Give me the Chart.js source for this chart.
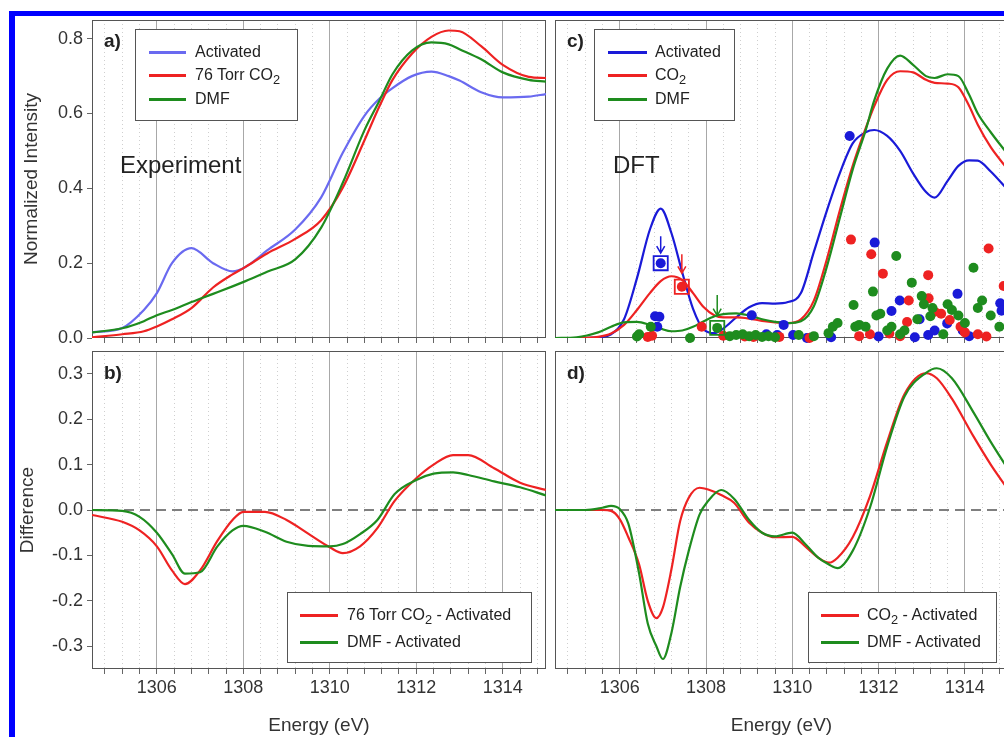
<!DOCTYPE html>
<html>
<head>
<meta charset="utf-8">
<script src="https://cdn.jsdelivr.net/npm/chart.js@4.4.1/dist/chart.umd.min.js"></script>
<style>
  html, body { margin: 0; padding: 0; background: #fff; overflow: hidden; }
  body { width: 1004px; height: 737px; position: relative; font-family: "Liberation Sans", Arial, sans-serif; color: #222; }
  canvas { position: absolute; }
  #frame { position: absolute; left: 9px; top: 11px; width: 1100px; height: 800px; border-left: 6px solid #0000ff; border-top: 5px solid #0000ff; }
  .legend { position: absolute; background: #fff; border: 1px solid #555; box-sizing: border-box; }
  .legend .row { position: absolute; font-size: 16px; line-height: 20px; white-space: nowrap; color: #222; }
  .legend .sw { position: absolute; height: 3px; }
  .legend sub { font-size: 0.8em; vertical-align: -0.35em; line-height: 0; }
  .note { position: absolute; white-space: nowrap; color: #222; }
  .tag { position: absolute; font-weight: bold; font-size: 19px; color: #222; }
</style>
</head>
<body>
<canvas id="panelA" width="552" height="345" style="left:0;top:0"></canvas>
<canvas id="panelB" width="552" height="392" style="left:0;top:345px"></canvas>
<canvas id="panelC" width="470" height="345" style="left:552px;top:0"></canvas>
<canvas id="panelD" width="470" height="392" style="left:552px;top:345px"></canvas>
<div id="frame"></div>

<div class="tag" style="left:104px;top:30px">a)</div>
<div class="tag" style="left:104px;top:362px">b)</div>
<div class="tag" style="left:567px;top:30px">c)</div>
<div class="tag" style="left:567px;top:362px">d)</div>
<div class="note" style="left:120px;top:151px;font-size:24px">Experiment</div>
<div class="note" style="left:613px;top:151px;font-size:24px">DFT</div>

<div class="legend" style="left:135px;top:29px;width:163px;height:92px">
  <div class="sw" style="left:13px;top:21px;width:37px;background:#6a6af0"></div>
  <div class="row" style="left:59px;top:12px">Activated</div>
  <div class="sw" style="left:13px;top:44px;width:37px;background:#ee2222"></div>
  <div class="row" style="left:59px;top:35px">76 Torr CO<sub>2</sub></div>
  <div class="sw" style="left:13px;top:68px;width:37px;background:#1e8c1e"></div>
  <div class="row" style="left:59px;top:59px">DMF</div>
</div>
<div class="legend" style="left:594px;top:29px;width:141px;height:92px">
  <div class="sw" style="left:13px;top:21px;width:39px;background:#1a1ad8"></div>
  <div class="row" style="left:60px;top:12px">Activated</div>
  <div class="sw" style="left:13px;top:44px;width:39px;background:#ee2222"></div>
  <div class="row" style="left:60px;top:35px">CO<sub>2</sub></div>
  <div class="sw" style="left:13px;top:68px;width:39px;background:#1e8c1e"></div>
  <div class="row" style="left:60px;top:59px">DMF</div>
</div>
<div class="legend" style="left:287px;top:592px;width:245px;height:71px">
  <div class="sw" style="left:12px;top:21px;width:38px;background:#ee2222"></div>
  <div class="row" style="left:59px;top:12px">76 Torr CO<sub>2</sub> - Activated</div>
  <div class="sw" style="left:12px;top:48px;width:38px;background:#1e8c1e"></div>
  <div class="row" style="left:59px;top:39px">DMF - Activated</div>
</div>
<div class="legend" style="left:808px;top:592px;width:189px;height:71px">
  <div class="sw" style="left:12px;top:21px;width:38px;background:#ee2222"></div>
  <div class="row" style="left:58px;top:12px">CO<sub>2</sub> - Activated</div>
  <div class="sw" style="left:12px;top:48px;width:38px;background:#1e8c1e"></div>
  <div class="row" style="left:58px;top:39px">DMF - Activated</div>
</div>

<script>
// energy axis
const energyMin = 1304.5;
const energyMax = 1315;
const majorEnergies = [1306, 1308, 1310, 1312, 1314];
const intensityTicks = [0, 0.2, 0.4, 0.6, 0.8];
const differenceTicks = [-0.3, -0.2, -0.1, 0, 0.1, 0.2, 0.3];

// a) experiment
const expEnergy   = [1304.5, 1305.2, 1305.7, 1306.0, 1306.35, 1306.8, 1307.3, 1307.75, 1308.05, 1308.55, 1309.2, 1309.8, 1310.3, 1310.8, 1311.15, 1311.45, 1311.9, 1312.35, 1312.75, 1313.0, 1313.5, 1314.0, 1314.6, 1315.0];
const expActivated = [0.015, 0.027, 0.075, 0.12, 0.20, 0.24, 0.20, 0.178, 0.19, 0.234, 0.29, 0.376, 0.495, 0.594, 0.64, 0.668, 0.70, 0.712, 0.70, 0.688, 0.657, 0.643, 0.645, 0.652];
const expCO2      = [0.002, 0.01, 0.018, 0.031, 0.05, 0.08, 0.135, 0.17, 0.19, 0.226, 0.265, 0.315, 0.402, 0.528, 0.62, 0.69, 0.76, 0.805, 0.822, 0.82, 0.78, 0.73, 0.698, 0.695];
const expDMF      = [0.015, 0.026, 0.045, 0.061, 0.075, 0.096, 0.118, 0.138, 0.152, 0.177, 0.21, 0.295, 0.415, 0.555, 0.635, 0.705, 0.768, 0.79, 0.785, 0.772, 0.745, 0.71, 0.69, 0.685];

// b) experimental differences
const diffEnergy = [1304.5, 1305.2, 1305.6, 1306.0, 1306.35, 1306.65, 1307.0, 1307.4, 1307.75, 1308.0, 1308.5, 1309.0, 1309.5, 1310.0, 1310.3, 1310.7, 1311.1, 1311.5, 1312.0, 1312.4, 1312.85, 1313.2, 1313.8, 1314.4, 1315.0];
const diffCO2    = [-0.011, -0.026, -0.045, -0.08, -0.133, -0.163, -0.133, -0.068, -0.022, -0.004, -0.004, -0.022, -0.052, -0.082, -0.095, -0.08, -0.04, 0.02, 0.07, 0.1, 0.121, 0.121, 0.092, 0.06, 0.044];
const diffDMF    = [0.0, -0.002, -0.015, -0.05, -0.097, -0.14, -0.137, -0.08, -0.045, -0.035, -0.048, -0.07, -0.079, -0.08, -0.075, -0.053, -0.022, 0.035, 0.066, 0.08, 0.083, 0.077, 0.063, 0.05, 0.032];

// c) DFT spectra
const dftEnergy    = [1304.5, 1305.0, 1305.5, 1305.8, 1306.1, 1306.4, 1306.7, 1306.95, 1307.2, 1307.45, 1307.7, 1307.95, 1308.2, 1308.4, 1308.7, 1309.0, 1309.3, 1309.6, 1309.9, 1310.2, 1310.5, 1310.8, 1311.1, 1311.4, 1311.7, 1311.9, 1312.2, 1312.5, 1312.8, 1313.1, 1313.3, 1313.6, 1313.85, 1314.1, 1314.3, 1314.6, 1315.0];
const dftActivated = [0, 0, 0.002, 0.01, 0.05, 0.16, 0.29, 0.346, 0.28, 0.175, 0.078, 0.022, 0.013, 0.025, 0.055, 0.082, 0.093, 0.092, 0.096, 0.12, 0.23, 0.34, 0.44, 0.52, 0.55, 0.556, 0.54, 0.50, 0.44, 0.39, 0.375, 0.42, 0.46, 0.475, 0.474, 0.445, 0.395];
const dftCO2       = [0, 0, 0.003, 0.012, 0.035, 0.075, 0.12, 0.152, 0.165, 0.155, 0.12, 0.082, 0.06, 0.055, 0.055, 0.052, 0.046, 0.042, 0.04, 0.05, 0.10, 0.21, 0.34, 0.46, 0.56, 0.62, 0.69, 0.713, 0.71, 0.69, 0.682, 0.68, 0.67, 0.62, 0.57, 0.51, 0.45];
const dftDMF       = [0, 0.002, 0.015, 0.03, 0.042, 0.043, 0.035, 0.025, 0.018, 0.02, 0.03, 0.045, 0.058, 0.064, 0.066, 0.06, 0.05, 0.043, 0.04, 0.045, 0.085, 0.19, 0.32, 0.45, 0.555, 0.635, 0.72, 0.755, 0.73, 0.70, 0.695, 0.705, 0.70, 0.65, 0.60, 0.55, 0.49];

// c) individual transitions (energy, intensity)
const stickActivated = [[1306.82, 0.058], [1306.92, 0.057], [1306.87, 0.03], [1306.95, 0.20], [1309.06, 0.061], [1309.4, 0.01], [1309.65, 0.008], [1309.8, 0.035], [1310.02, 0.008], [1310.34, 0.0], [1310.9, 0.002], [1311.33, 0.54], [1311.91, 0.255], [1312.0, 0.004], [1312.3, 0.072], [1312.49, 0.10], [1312.84, 0.002], [1312.95, 0.05], [1313.15, 0.008], [1313.3, 0.02], [1313.59, 0.039], [1313.83, 0.118], [1313.95, 0.02], [1314.1, 0.005], [1314.82, 0.093], [1314.85, 0.073]];
const stickCO2 = [[1306.65, 0.003], [1306.75, 0.006], [1307.44, 0.137], [1307.9, 0.03], [1308.4, 0.006], [1308.9, 0.004], [1309.1, 0.003], [1309.7, 0.003], [1310.4, 0.0], [1311.36, 0.263], [1311.55, 0.005], [1311.8, 0.01], [1311.83, 0.224], [1312.1, 0.172], [1312.25, 0.012], [1312.5, 0.005], [1312.66, 0.043], [1312.7, 0.10], [1313.15, 0.168], [1313.16, 0.106], [1313.3, 0.07], [1313.45, 0.065], [1313.65, 0.048], [1313.9, 0.03], [1314.0, 0.015], [1314.3, 0.01], [1314.5, 0.004], [1314.55, 0.239], [1314.9, 0.139]];
const stickDMF = [[1306.4, 0.004], [1306.45, 0.01], [1306.72, 0.03], [1307.63, 0.0], [1308.26, 0.027], [1308.55, 0.005], [1308.7, 0.008], [1308.85, 0.01], [1309.0, 0.005], [1309.15, 0.008], [1309.3, 0.003], [1309.45, 0.005], [1309.6, 0.002], [1310.15, 0.008], [1310.5, 0.005], [1310.84, 0.013], [1310.94, 0.03], [1311.05, 0.04], [1311.42, 0.088], [1311.46, 0.03], [1311.55, 0.035], [1311.7, 0.03], [1311.87, 0.124], [1311.95, 0.06], [1312.04, 0.065], [1312.2, 0.02], [1312.3, 0.03], [1312.41, 0.219], [1312.5, 0.01], [1312.6, 0.02], [1312.77, 0.148], [1312.9, 0.05], [1313.0, 0.112], [1313.05, 0.09], [1313.2, 0.058], [1313.25, 0.08], [1313.5, 0.01], [1313.6, 0.09], [1313.7, 0.075], [1313.85, 0.06], [1314.0, 0.04], [1314.2, 0.188], [1314.3, 0.08], [1314.4, 0.1], [1314.6, 0.06], [1314.8, 0.03]];

// c) highlighted transitions and their arrows
const markedEnergy = [1306.95, 1307.44, 1308.26];
const markedIntensity = [0.20, 0.137, 0.027];
const arrowTop = [0.272, 0.224, 0.115];
const arrowBottom = [0.227, 0.173, 0.06];

// d) DFT differences
const dftDiffEnergy = [1304.5, 1305.2, 1305.6, 1305.8, 1306.0, 1306.2, 1306.45, 1306.65, 1306.85, 1307.0, 1307.2, 1307.4, 1307.6, 1307.85, 1308.05, 1308.35, 1308.65, 1309.0, 1309.3, 1309.6, 1310.0, 1310.3, 1310.6, 1310.85, 1311.05, 1311.4, 1311.8, 1312.2, 1312.6, 1313.1, 1313.35, 1313.7, 1314.2, 1314.6, 1315.0];
const dftDiffCO2 = [0, 0, 0, -0.002, -0.02, -0.06, -0.12, -0.2, -0.238, -0.215, -0.13, -0.025, 0.027, 0.049, 0.045, 0.033, 0.016, -0.028, -0.05, -0.06, -0.059, -0.08, -0.105, -0.116, -0.105, -0.06, 0.03, 0.15, 0.255, 0.301, 0.29, 0.245, 0.162, 0.1, 0.045];
const dftDiffDMF = [0, 0, 0.005, 0.009, 0.002, -0.03, -0.14, -0.25, -0.30, -0.328, -0.27, -0.17, -0.09, -0.01, 0.02, 0.044, 0.025, -0.022, -0.05, -0.058, -0.05, -0.075, -0.105, -0.12, -0.128, -0.09, 0.005, 0.14, 0.25, 0.302, 0.312, 0.29, 0.215, 0.15, 0.09];

const colActExp = "#6a6af0";
const colAct = "#1a1ad8";
const colRed = "#ee2222";
const colGreen = "#1e8c1e";
const markColors = [colAct, colRed, colGreen];

Chart.defaults.font.family = '"Liberation Sans", Arial, sans-serif';
Chart.defaults.color = "#333";

// every 0.4 eV a dotted grid line, solid at the labelled energies
const gridEnergies = [];
for (let k = 0; k <= 25; k++) gridEnergies.push((13048 + 4 * k) / 10);
const isMajor = (v) => majorEnergies.includes(v);

function noOverhang(s) {
  s.paddingTop = 0;
  s.paddingBottom = 0;
  s.paddingLeft = 0;
  s.paddingRight = 0;
}

function xAxis(showLabels) {
  return {
    type: "linear",
    min: energyMin,
    max: energyMax,
    afterBuildTicks: (s) => { s.ticks = gridEnergies.map((v) => ({ value: v })); },
    afterFit: (s) => { s.height = showLabels ? 68 : 7; noOverhang(s); },
    border: { display: false, dash: (c) => (c.tick && !isMajor(c.tick.value) ? [1, 3] : []) },
    grid: {
      color: (c) => (c.tick && isMajor(c.tick.value) ? "#a8a8a8" : "#cfcfcf"),
      lineWidth: 1,
      tickLength: 5,
      tickColor: "#666",
    },
    ticks: {
      display: showLabels,
      autoSkip: false,
      maxRotation: 0,
      padding: 3,
      color: "#333",
      font: { size: 18 },
      callback: (v) => (isMajor(v) ? String(v) : ""),
    },
    title: { display: showLabels, text: "Energy (eV)", color: "#333", font: { size: 19 }, padding: { top: 0, bottom: 0 } },
  };
}

function yAxis(tickValues, min, max, title, titlePad) {
  const show = !!title;
  return {
    type: "linear",
    min: min,
    max: max,
    afterBuildTicks: (s) => { s.ticks = tickValues.map((v) => ({ value: v })); },
    afterFit: (s) => { s.width = show ? 92 : 0; noOverhang(s); },
    border: { display: false },
    grid: { drawOnChartArea: false, drawTicks: show, tickLength: 5, tickColor: "#666" },
    ticks: { display: show, padding: 4, color: "#333", font: { size: 18 }, callback: (v) => v.toFixed(1) },
    title: { display: show, text: title, color: "#333", font: { size: 19 }, padding: { top: titlePad, bottom: 0 } },
  };
}

function curve(xs, ys, color, order) {
  return {
    data: xs.map((x, i) => ({ x: x, y: ys[i] })),
    borderColor: color,
    borderWidth: 2.2,
    pointRadius: 0,
    cubicInterpolationMode: "monotone",
    fill: false,
    order: order,
  };
}

function dots(list, color, order) {
  return {
    data: list.map((p) => ({ x: p[0], y: p[1] })),
    showLine: false,
    pointRadius: 5,
    pointBackgroundColor: color,
    pointBorderWidth: 0,
    clip: false,
    order: order,
  };
}

function zeroLine() {
  return {
    data: [{ x: energyMin, y: 0 }, { x: energyMax, y: 0 }],
    borderColor: "#555",
    borderWidth: 1.5,
    borderDash: [10, 6],
    pointRadius: 0,
    order: 9,
  };
}

const framePlugin = {
  id: "frame",
  beforeDatasetsDraw(chart) {
    const { ctx, chartArea: a } = chart;
    ctx.save();
    ctx.strokeStyle = "#555";
    ctx.lineWidth = 1;
    ctx.strokeRect(a.left + 0.5, a.top + 0.5, a.right - a.left - 1, a.bottom - a.top - 1);
    ctx.restore();
  },
};

const arrowPlugin = {
  id: "arrows",
  afterDatasetsDraw(chart) {
    const { ctx, scales } = chart;
    markedEnergy.forEach((e, i) => {
      const px = scales.x.getPixelForValue(e);
      const y1 = scales.y.getPixelForValue(arrowTop[i]);
      const y2 = scales.y.getPixelForValue(arrowBottom[i]);
      ctx.save();
      ctx.strokeStyle = markColors[i];
      ctx.lineWidth = 1.5;
      ctx.beginPath();
      ctx.moveTo(px, y1);
      ctx.lineTo(px, y2);
      ctx.moveTo(px - 4, y2 - 7);
      ctx.lineTo(px, y2);
      ctx.lineTo(px + 4, y2 - 7);
      ctx.stroke();
      ctx.restore();
    });
  },
};

function makePanel(id, datasets, scales, padding, extraPlugins) {
  return new Chart(document.getElementById(id), {
    type: "line",
    data: { datasets: datasets },
    options: {
      responsive: false,
      animation: false,
      devicePixelRatio: 1,
      layout: { padding: padding, autoPadding: false },
      plugins: { legend: { display: false }, tooltip: { enabled: false } },
      scales: scales,
    },
    plugins: [framePlugin].concat(extraPlugins || []),
  });
}

makePanel("panelA", [
  curve(expEnergy, expActivated, colActExp, 3),
  curve(expEnergy, expCO2, colRed, 2),
  curve(expEnergy, expDMF, colGreen, 1),
], { x: xAxis(false), y: yAxis(intensityTicks, 0, 0.85, "Normalized Intensity", 20) },
{ left: 0, right: 6, top: 20, bottom: 0 });

makePanel("panelB", [
  zeroLine(),
  curve(diffEnergy, diffCO2, colRed, 2),
  curve(diffEnergy, diffDMF, colGreen, 1),
], { x: xAxis(true), y: yAxis(differenceTicks, -0.35, 0.35, "Difference", 16) },
{ left: 0, right: 6, top: 6, bottom: 0 });

makePanel("panelC", [
  curve(dftEnergy, dftActivated, colAct, 7),
  curve(dftEnergy, dftCO2, colRed, 6),
  curve(dftEnergy, dftDMF, colGreen, 5),
  dots(stickActivated, colAct, 4),
  dots(stickCO2, colRed, 3),
  dots(stickDMF, colGreen, 2),
  {
    data: markedEnergy.map((x, i) => ({ x: x, y: markedIntensity[i] })),
    showLine: false,
    pointStyle: "rect",
    pointRadius: 10,
    pointBackgroundColor: "rgba(0,0,0,0)",
    pointBorderColor: markColors,
    pointBorderWidth: 1.8,
    order: 1,
  },
], { x: xAxis(false), y: yAxis(intensityTicks, 0, 0.85, "", 0) },
{ left: 3, right: 14, top: 20, bottom: 0 }, [arrowPlugin]);

makePanel("panelD", [
  zeroLine(),
  curve(dftDiffEnergy, dftDiffCO2, colRed, 2),
  curve(dftDiffEnergy, dftDiffDMF, colGreen, 1),
], { x: xAxis(true), y: yAxis(differenceTicks, -0.35, 0.35, "", 0) },
{ left: 3, right: 14, top: 6, bottom: 0 });
</script>
</body>
</html>
